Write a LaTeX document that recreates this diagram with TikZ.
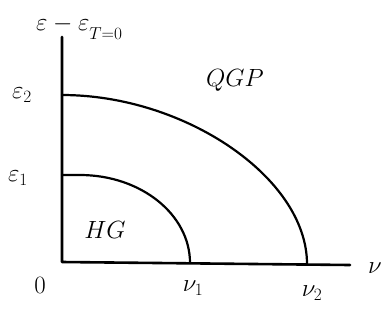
\documentclass[tikz,border=0pt]{standalone}
\begin{document}
\begin{tikzpicture}[x=1pt,y=-1pt,line cap=round,line join=round]
\tikzset{axis/.style={line width=2.6pt},curve/.style={line width=2.2pt},lab/.style={font=\fontsize{24}{26}\selectfont,inner sep=0pt}}
\useasboundingbox (0,0) rectangle (388,325);
\coordinate (O) at (62,262);
\coordinate (ytop) at (62,37);
\coordinate (xend) at (350,265);
\coordinate (e2) at (62,95);
\coordinate (e1) at (62,175);
\coordinate (n1) at (190,263);
\coordinate (n2) at (307,264);
\draw[axis] (ytop) -- (O) -- (xend);
\draw[curve] (e2) .. controls (185,95) and (307,178) .. (n2);
\draw[curve] (e1) -- (80,175) arc[start angle=-90,end angle=0,x radius=110,y radius=88];
\node[lab,anchor=west] (ylab) at (36,28) {$\varepsilon-\varepsilon_{\raisebox{-5pt}{$\scriptstyle T=0$}}$};
\node[lab] (le2) at (22,95) {$\varepsilon_2$};
\node[lab] (le1) at (18,178) {$\varepsilon_1$};
\node[lab] (qgp) at (235,80) {$QGP$};
\node[lab] (hg) at (105,230) {$HG$};
\node[lab] (l0) at (40,285) {$0$};
\node[lab] (ln1) at (193,288) {$\nu_1$};
\node[lab] (ln2) at (312,293) {$\nu_2$};
\node[lab] (lnu) at (375,268) {$\nu$};
\end{tikzpicture}
\end{document}
